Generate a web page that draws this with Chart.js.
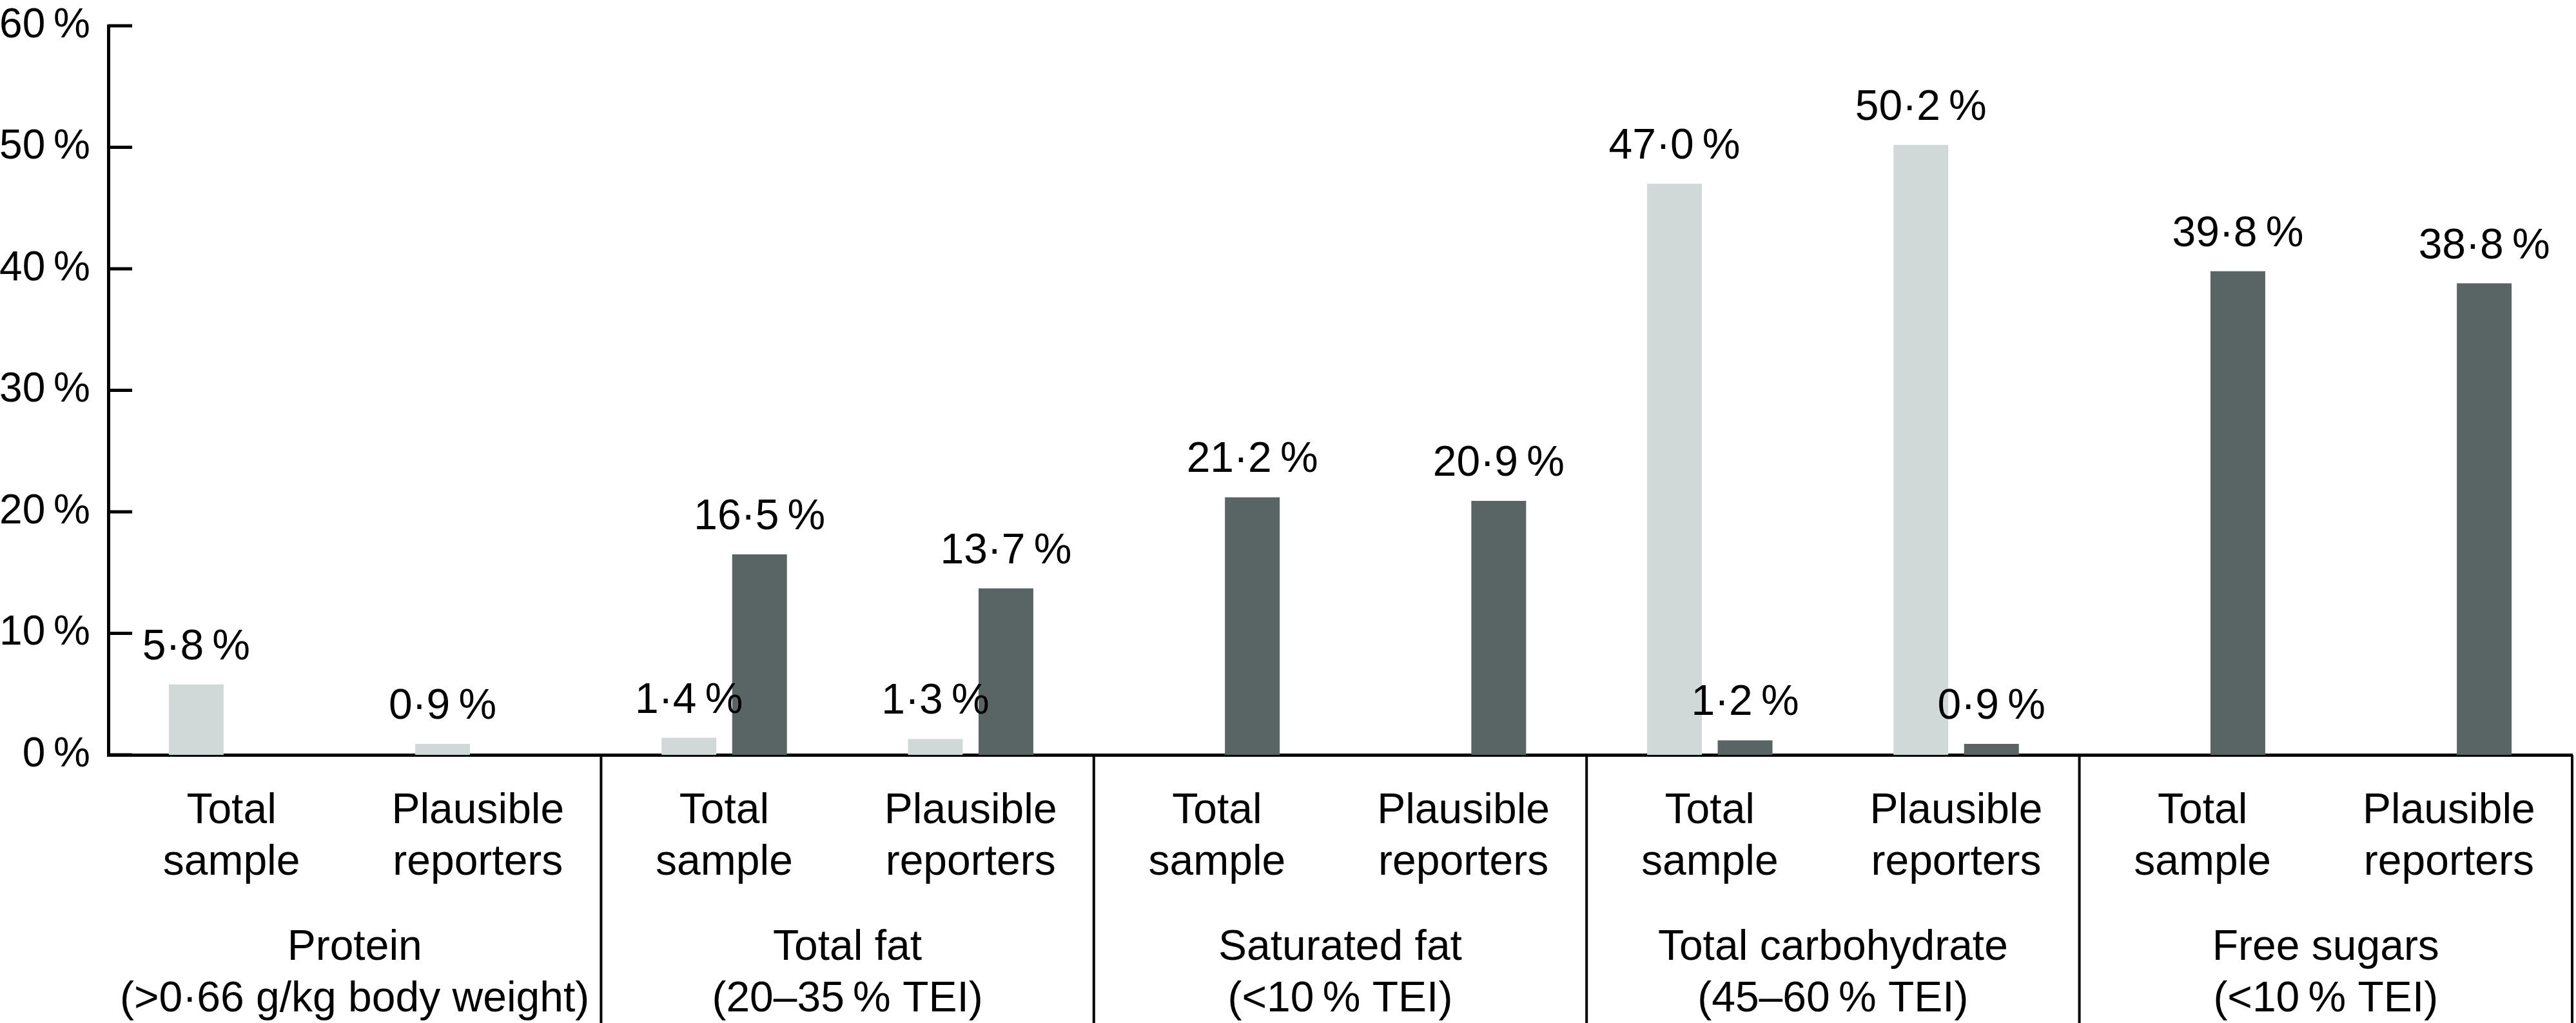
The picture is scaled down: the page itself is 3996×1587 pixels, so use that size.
<!DOCTYPE html>
<html>
<head>
<meta charset="utf-8">
<script src="https://cdn.jsdelivr.net/npm/chart.js@4"></script>
<style>
  html, body { margin: 0; padding: 0; background: #fff; }
  #wrap { width: 3996px; height: 1587px; }
</style>
</head>
<body>
<div id="wrap"><canvas id="myChart" width="3996" height="1587"></canvas></div>
<script>
// Sub-categories (two per nutrient)
const categories = [
  ["Total", "sample"], ["Plausible", "reporters"],
  ["Total", "sample"], ["Plausible", "reporters"],
  ["Total", "sample"], ["Plausible", "reporters"],
  ["Total", "sample"], ["Plausible", "reporters"],
  ["Total", "sample"], ["Plausible", "reporters"]
];

// Nutrient groups shown under the sub-categories
const groups = [
  ["Protein", "(>0\u00B766 g/kg body weight)"],
  ["Total fat", "(20\u201335\u2009% TEI)"],
  ["Saturated fat", "(<10\u2009% TEI)"],
  ["Total carbohydrate", "(45\u201360\u2009% TEI)"],
  ["Free sugars", "(<10\u2009% TEI)"]
];

// Light bars (below recommendation) and dark bars (above recommendation), %
const belowValues = [5.8, 0.9, 1.4, 1.3, 0, 0, 47.0, 50.2, 0, 0];
const aboveValues = [0, 0, 16.5, 13.7, 21.2, 20.9, 1.2, 0.9, 39.8, 38.8];

const yTicks = [0, 10, 20, 30, 40, 50, 60];

const FONT = "Liberation Sans, Arial, Helvetica, sans-serif";

function pct(v) {
  return v.toFixed(1).replace(".", "\u00B7") + "\u2009%";
}

// Draws inner y ticks, group separators, group labels and bar values
const decorations = {
  id: "decorations",
  afterDraw(chart) {
    const ctx = chart.ctx;
    const area = chart.chartArea;
    const x = chart.scales.x;
    const y = chart.scales.y;

    ctx.save();
    ctx.strokeStyle = "#000";

    // y ticks pointing into the plot
    ctx.lineWidth = 5;
    yTicks.forEach(v => {
      const py = y.getPixelForValue(v);
      ctx.beginPath();
      ctx.moveTo(area.left, py);
      ctx.lineTo(area.left + 37, py);
      ctx.stroke();
    });

    // separators between nutrient groups
    ctx.lineWidth = 4;
    const seps = [];
    for (let i = 1; i < categories.length - 1; i += 2) {
      seps.push((x.getPixelForValue(i) + x.getPixelForValue(i + 1)) / 2);
    }
    seps.push(area.right);
    seps.forEach(sx => {
      ctx.beginPath();
      ctx.moveTo(sx, area.bottom);
      ctx.lineTo(sx, chart.height);
      ctx.stroke();
    });

    // group labels
    ctx.fillStyle = "#000";
    ctx.font = "66px " + FONT;
    ctx.textAlign = "center";
    ctx.textBaseline = "middle";
    groups.forEach((g, gi) => {
      const cx = (x.getPixelForValue(gi * 2) + x.getPixelForValue(gi * 2 + 1)) / 2;
      ctx.fillText(g[0], cx, area.bottom + 300);
      ctx.fillText(g[1], cx, area.bottom + 380);
    });

    // value labels above bars
    ctx.textBaseline = "alphabetic";
    chart.data.datasets.forEach((ds, di) => {
      const meta = chart.getDatasetMeta(di);
      meta.data.forEach((bar, i) => {
        const v = ds.data[i];
        if (v > 0) {
          ctx.fillText(pct(v), bar.x, bar.y - 39);
        }
      });
    });

    ctx.restore();
  }
};

const ctx = document.getElementById("myChart").getContext("2d");
const myChart = new Chart(ctx, {
  type: "bar",
  data: {
    labels: categories,
    datasets: [
      {
        label: "Below",
        data: belowValues,
        backgroundColor: "#d0d9d7",
        borderWidth: 0
      },
      {
        label: "Above",
        data: aboveValues,
        backgroundColor: "#596465",
        borderWidth: 0
      }
    ]
  },
  options: {
    responsive: false,
    animation: false,
    devicePixelRatio: 1,
    categoryPercentage: 0.573,
    barPercentage: 0.776,
    layout: { padding: { top: 40, right: 6, left: 0, bottom: 0 } },
    plugins: {
      legend: { display: false },
      tooltip: { enabled: false }
    },
    scales: {
      x: {
        grid: { display: false, drawTicks: false },
        border: { display: true, color: "#000", width: 5 },
        ticks: {
          color: "#000",
          padding: 48,
          maxRotation: 0,
          autoSkip: false,
          font: { family: FONT, size: 66, lineHeight: 80 / 66 }
        },
        afterFit(scale) { scale.height = 416; }
      },
      y: {
        min: 0,
        max: 60,
        afterBuildTicks(scale) { scale.ticks = yTicks.map(v => ({ value: v })); },
        grid: { display: false, drawTicks: false },
        border: { display: true, color: "#000", width: 5 },
        ticks: {
          color: "#000",
          padding: 28,
          font: { family: FONT, size: 64, lineHeight: 1 },
          callback: v => v + "\u2009%"
        },
        afterFit(scale) {
          scale.width = 168;
          scale.paddingTop = 0;
          scale.paddingBottom = 0;
        }
      }
    }
  },
  plugins: [decorations]
});
</script>
</body>
</html>
